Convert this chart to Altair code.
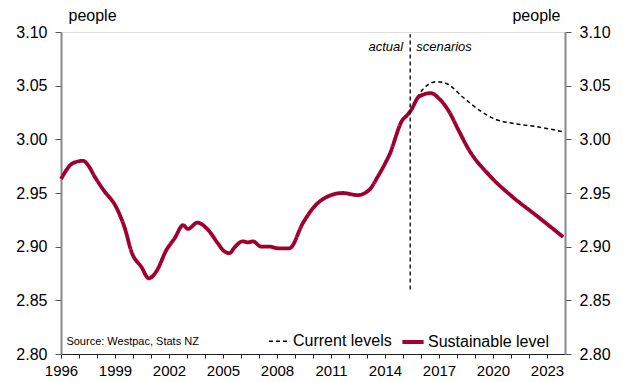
import altair as alt
import pandas as pd

# Sustainable level (actual + scenario)
sus_year = [1996.0, 1996.68, 1997.24, 1997.5, 1997.88, 1998.35, 1999.09, 1999.55, 1999.92,
            2000.47, 2000.88, 2001.3, 2001.86, 2002.32, 2002.78, 2003.06, 2003.57, 2004.17,
            2004.72, 2005.05, 2005.37, 2005.65, 2006.1, 2006.4, 2006.66, 2007.12, 2007.58,
            2008.05, 2008.69, 2009.43, 2009.99, 2010.73, 2011.65, 2012.48, 2013.13, 2013.59,
            2014.05, 2014.24, 2014.97, 2015.2, 2015.44, 2015.9, 2016.55, 2017.0, 2017.56,
            2018.1, 2018.67, 2019.78, 2021.07, 2022.37, 2023.9]
sus_val = [2.963, 2.978, 2.980, 2.976, 2.965, 2.953, 2.936, 2.917, 2.895,
           2.881, 2.8705, 2.877, 2.897, 2.908, 2.920, 2.9165, 2.9224, 2.9156,
           2.903, 2.896, 2.894, 2.8995, 2.905, 2.904, 2.905, 2.900, 2.900,
           2.8985, 2.8985, 2.9217, 2.9357, 2.946, 2.950, 2.948, 2.953, 2.965,
           2.979, 2.9854, 3.018, 3.022, 3.027, 3.040, 3.043, 3.038, 3.0258,
           3.008, 2.990, 2.9668, 2.9466, 2.9295, 2.909]

# Current levels scenario
cur_year = [2015.44, 2015.7, 2015.9, 2016.36, 2016.92, 2017.47, 2018.3, 2019.23, 2020.15,
            2021.07, 2022.18, 2023.9]
cur_val = [3.027, 3.036, 3.042, 3.0506, 3.0537, 3.0516, 3.0397, 3.0273, 3.0186,
           3.0149, 3.0124, 3.0071]

series_names = ["Current levels", "Sustainable level"]
series_colors = ["#000000", "#A00030"]

divider_year = [2015.4]
divider_low = [2.86]
divider_high = [3.098]

annot_text = ["actual", "scenarios"]
annot_year = [2015.4, 2015.4]
annot_val = [3.086, 3.086]

source_text = ["Source: Westpac, Stats NZ"]
source_year = [1996.3]
source_val = [2.808]

y_ticks = [2.80, 2.85, 2.90, 2.95, 3.00, 3.05, 3.10]
x_ticks = list(range(1996, 2024))

FONT = "Liberation Sans"
YDOM = [2.80, 3.10]
XDOM = [1996, 2024]

lines_df = pd.DataFrame(
    {"year": cur_year + sus_year,
     "value": cur_val + sus_val,
     "series": [series_names[0]] * len(cur_year) + [series_names[1]] * len(sus_year)}
)

xscale = alt.Scale(domain=XDOM, nice=False, zero=False)


def yscale():
    return alt.Scale(domain=YDOM, nice=False, zero=False)


x_axis = alt.Axis(
    values=x_ticks,
    labelExpr="(datum.value - 1996) % 3 == 0 ? format(datum.value, 'd') : ''",
    grid=False, title=None, tickSize=4, labelPadding=5, labelFontSize=15,
    labelFont=FONT, labelColor="#000", domainColor="#222", tickColor="#222",
    domainWidth=1.2, labelFlush=False, labelOverlap=False,
)


def X():
    return alt.X("year:Q", scale=xscale, axis=x_axis)


left_axis = alt.Axis(
    values=y_ticks, format=".2f", orient="left", grid=False,
    title="people", titleAngle=0, titleX=7, titleY=-9, titleAlign="left",
    titleBaseline="bottom", titleFontWeight="normal", titleFontSize=16, titleFont=FONT,
    titleColor="#000",
    labelFontSize=16, labelFont=FONT, labelColor="#000", labelPadding=8,
    tickSize=6, tickColor="#555", domainColor="#888", domainWidth=2,
)

right_axis = alt.Axis(
    values=y_ticks, format=".2f", orient="right", grid=False,
    title="people", titleAngle=0, titleX=-5, titleY=-9, titleAlign="right",
    titleBaseline="bottom", titleFontWeight="normal", titleFontSize=16, titleFont=FONT,
    titleColor="#000",
    labelFontSize=16, labelFont=FONT, labelColor="#000", labelPadding=8,
    tickSize=6, tickColor="#555", domainColor="#888", domainWidth=2,
)

base = alt.Chart(lines_df)

lines = base.mark_line(interpolate="monotone").encode(
    x=X(),
    y=alt.Y("value:Q", scale=yscale(), axis=left_axis),
    color=alt.Color(
        "series:N",
        scale=alt.Scale(domain=series_names, range=series_colors),
        legend=alt.Legend(
            title=None, orient="none", legendX=207, legendY=297, direction="horizontal",
            symbolType="stroke", symbolSize=450, labelFontSize=16, labelFont=FONT,
            labelColor="#000", columnPadding=2, labelOffset=2,
        ),
    ),
    strokeDash=alt.StrokeDash(
        "series:N",
        scale=alt.Scale(domain=series_names, range=[[4, 3], [1, 0]]),
        legend=alt.Legend(title=None),
    ),
    strokeWidth=alt.StrokeWidth(
        "series:N",
        scale=alt.Scale(domain=series_names, range=[1.5, 3.8]),
        legend=alt.Legend(title=None),
    ),
)

right = base.mark_line(opacity=0).encode(
    x=X(),
    y=alt.Y("value:Q", scale=yscale(), axis=right_axis),
)

div_df = pd.DataFrame({"year": divider_year, "low": divider_low, "high": divider_high})
divider = alt.Chart(div_df).mark_rule(color="#000", strokeDash=[4, 3], strokeWidth=1.3).encode(
    x=X(),
    y=alt.Y("low:Q", scale=yscale(), axis=None),
    y2="high:Q",
)

ann_df = pd.DataFrame({"year": annot_year, "value": annot_val, "text": annot_text})
ann_left = alt.Chart(ann_df.iloc[[0]]).mark_text(
    align="right", baseline="middle", dx=-7, fontSize=13, fontStyle="italic", font=FONT, color="#000"
).encode(
    x=X(),
    y=alt.Y("value:Q", scale=yscale(), axis=None),
    text="text:N",
)
ann_right = alt.Chart(ann_df.iloc[[1]]).mark_text(
    align="left", baseline="middle", dx=6, fontSize=13, fontStyle="italic", font=FONT, color="#000"
).encode(
    x=X(),
    y=alt.Y("value:Q", scale=yscale(), axis=None),
    text="text:N",
)

src_df = pd.DataFrame({"year": source_year, "value": source_val, "text": source_text})
source = alt.Chart(src_df).mark_text(
    align="left", baseline="alphabetic", fontSize=11, font=FONT, color="#000"
).encode(
    x=X(),
    y=alt.Y("value:Q", scale=yscale(), axis=None),
    text="text:N",
)

chart = alt.layer(lines, right, divider, ann_left, ann_right, source).resolve_scale(
    y="independent"
).properties(
    width=504, height=322,
    autosize=alt.AutoSizeParams(type="none"),
    padding={"left": 61, "top": 32, "right": 58, "bottom": 28},
).configure_view(stroke=None).configure(background="white")

chart.save("out.html", embed_options={"renderer": "svg", "actions": False})
